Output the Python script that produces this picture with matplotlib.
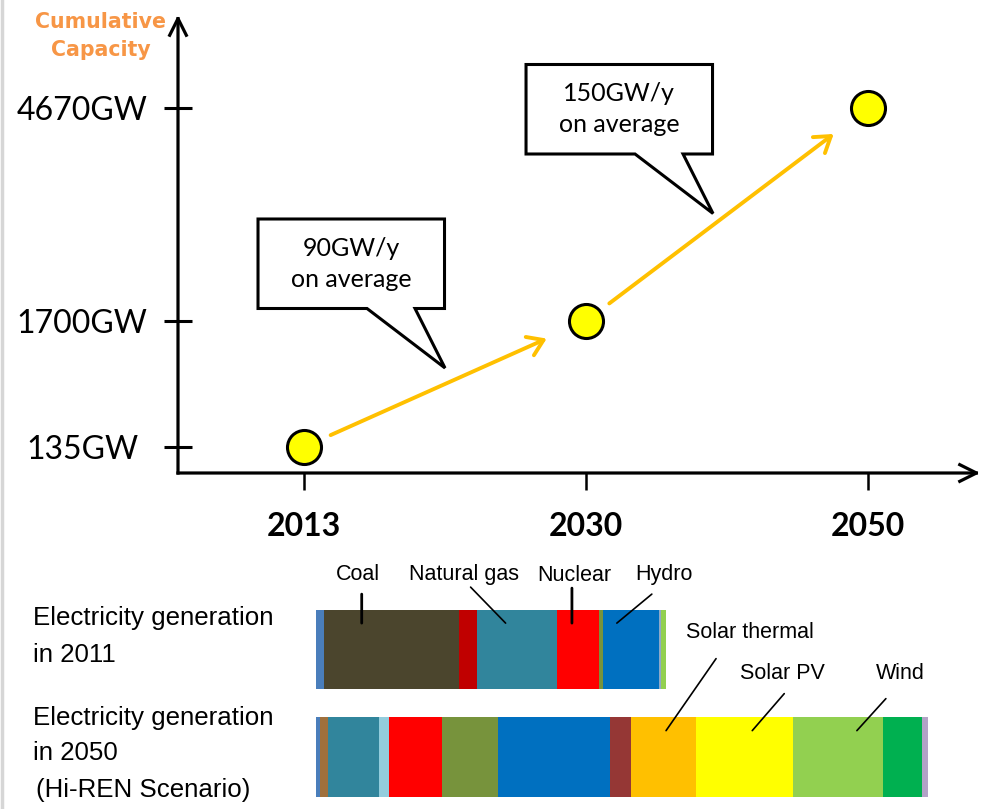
import numpy as np
import matplotlib
matplotlib.use("Agg")
import matplotlib.pyplot as plt
from matplotlib.patches import Polygon
from matplotlib.transforms import IdentityTransform
from matplotlib.lines import Line2D

# ---- data -------------------------------------------------------------
years = ["2013", "2030", "2050"]
capacity_gw = [135, 1700, 4670]
rate_labels = ["90GW/y\non average", "150GW/y\non average"]

# electricity generation by source, TWh
sources_2011 = ["Oil", "Coal", "Other fossil", "Natural gas", "Nuclear",
                "Biomass", "Hydro", "Geothermal", "Wind"]
gen_2011_twh = [500, 8500, 1130, 5040, 2650, 250, 3530, 130, 320]

sources_2050 = ["Oil", "Coal", "Natural gas", "Natural gas CCS", "Nuclear",
                "Biomass", "Hydro", "Geothermal", "Solar thermal", "Solar PV",
                "Wind onshore", "Wind offshore", "Ocean"]
gen_2050_twh = [250, 500, 3210, 630, 3340, 3530, 7060, 1320, 4100, 6110,
                5670, 2460, 380]

row_labels = [["Electricity generation", "in 2011"],
              ["Electricity generation", "in 2050", "(Hi-REN Scenario)"]]

# ---- styles -----------------------------------------------------------
colors_2011 = ["#4A7EBB", "#4B452D", "#C00000", "#31859C", "#FF0000",
               "#77933C", "#0070C0", "#8EA9C8", "#92D050"]
colors_2050 = ["#4A7EBB", "#A0703C", "#31859C", "#93CDDD", "#FF0000",
               "#77933C", "#0070C0", "#953735", "#FFC000", "#FFFF00",
               "#92D050", "#00B050", "#B3A2C7"]
ARROW_ORANGE = "#FFC000"
TITLE_ORANGE = "#F79646"

W, H = 982, 809
fig = plt.figure(figsize=(W / 100, H / 100), dpi=100)


def px_rect(left, top, right, bottom):
    return [left / W, 1 - bottom / H, (right - left) / W, (bottom - top) / H]


# ---- capacity chart ---------------------------------------------------
ax = fig.add_axes(px_rect(178, 15, 980, 473))

# schematic (non-linear) vertical axis: piecewise-linear mapping
knot_vals = np.array([-400.0, 135.0, 1700.0, 4670.0, 6000.0])
knot_pos = np.array([0.0, 26.0, 152.0, 365.0, 458.0])


def fwd(v):
    return np.interp(v, knot_vals, knot_pos)


def inv(p):
    return np.interp(p, knot_pos, knot_vals)


ax.set_yscale("function", functions=(fwd, inv))
ax.set_ylim(knot_vals[0], knot_vals[-1])
xpos = np.arange(len(years))
ax.set_xlim(-0.4468, 2.397)

for s in ax.spines.values():
    s.set_visible(False)
ax.patch.set_alpha(0)

# axis lines with open arrowheads
for end in [(0, 1), (1, 0)]:
    ax.annotate("", xy=end, xytext=(0, 0), xycoords="axes fraction",
                textcoords="axes fraction",
                arrowprops=dict(arrowstyle="->", lw=2.3, color="black",
                                mutation_scale=30, shrinkA=0, shrinkB=0,
                                capstyle="projecting"))

ax.set_yticks(capacity_gw, labels=[f"{v}GW" for v in capacity_gw],
              fontfamily="Lato", fontsize=23, ha="center")
ax.set_xticks(xpos, labels=years, fontfamily="Lato", fontweight="bold",
              fontsize=23)
ax.tick_params(axis="y", direction="inout", length=20, width=2.2, pad=59)
ax.tick_params(axis="x", direction="out", length=12, width=1.8, pad=16)

ax.plot(xpos, capacity_gw, "o", ms=24.5, mfc="#FFFF00", mec="black",
        mew=2.2, zorder=5, clip_on=False)

for i in range(len(years) - 1):
    ax.annotate("", xy=(xpos[i + 1], capacity_gw[i + 1]),
                xytext=(xpos[i], capacity_gw[i]),
                arrowprops=dict(arrowstyle="->,head_length=0.45,head_width=0.3",
                                color=ARROW_ORANGE, lw=2.8, mutation_scale=24,
                                shrinkA=21, shrinkB=31))

fig.text(101 / W, 1 - 36 / H, "Cumulative\nCapacity", ha="center",
         va="center", color=TITLE_ORANGE, fontweight="bold",
         fontfamily="DejaVu Sans", fontsize=14.8, linespacing=1.5)

# speech-bubble callouts anchored above the middle of each growth arrow
fig.canvas.draw()
tip_offsets = [(0, 16), (-14, 1)]
bubble = np.array([[0, 0], [-30, 59.5], [-0.5, 59.5], [-0.5, 149],
                   [-187, 149], [-187, 59.5], [-78, 59.5]])
for i, label in enumerate(rate_labels):
    p0 = ax.transData.transform((xpos[i], capacity_gw[i]))
    p1 = ax.transData.transform((xpos[i + 1], capacity_gw[i + 1]))
    tip = (p0 + p1) / 2 + np.array(tip_offsets[i])
    verts = bubble + tip
    fig.add_artist(Polygon(verts, closed=True, fc="white", ec="black",
                           lw=2.2, joinstyle="miter",
                           transform=IdentityTransform(), zorder=4))
    cx = tip[0] - 93.75
    cy = tip[1] + 104.25
    fig.text(cx / W, cy / H, label, ha="center", va="center",
             fontfamily="Lato", fontsize=18, linespacing=1.42, zorder=6)

# ---- generation bars --------------------------------------------------
bx = fig.add_axes(px_rect(316, 600, 940, 809))
bx.set_xlim(0, 624 * 63)
bx.set_ylim(1.484, -0.46)
bx.axis("off")

rows = [(gen_2011_twh, colors_2011), (gen_2050_twh, colors_2050)]
for r, (vals, cols) in enumerate(rows):
    lefts = np.concatenate([[0], np.cumsum(vals)[:-1]])
    bx.barh(r, vals, left=lefts, height=0.74, color=cols, edgecolor="none")

# (row, segment index, position in segment, line start offset, text offset)
seg_labels = [
    ("Coal", 0, 1, 0.28, (0, 29), (-3.5, 49)),
    ("Natural gas", 0, 3, 0.36, (-35, 36), (-42, 49)),
    ("Nuclear", 0, 4, 0.36, (0, 35), (2, 48)),
    ("Hydro", 0, 6, 0.25, (35, 29), (47, 49)),
    ("Solar thermal", 1, 8, 0.54, (50, 72), (84, 98)),
    ("Solar PV", 1, 9, 0.58, (32, 37), (30, 57)),
    ("Wind", 1, 10, 0.71, (29, 32), (43, 57)),
]
for text, r, k, frac, line_off, text_off in seg_labels:
    vals = rows[r][0]
    x_end = sum(vals[:k]) + frac * vals[k]
    y_end = r - 0.245
    lw = 2.0 if line_off[0] == 0 else 1.2
    bx.annotate("", xy=(x_end, y_end), xytext=line_off,
                textcoords="offset pixels",
                arrowprops=dict(arrowstyle="-", lw=lw, color="black",
                                shrinkA=0, shrinkB=0))
    bx.annotate(text, xy=(x_end, y_end), xytext=text_off,
                textcoords="offset pixels", ha="center", va="center",
                fontfamily="Liberation Sans", fontsize=15.5)

row_text_x = [[33, 33], [33, 33, 36]]
row_text_y = [[618, 655], [718, 753, 790]]
for lines, xs, ys in zip(row_labels, row_text_x, row_text_y):
    for line, x, y in zip(lines, xs, ys):
        fig.text(x / W, 1 - y / H, line, ha="left", va="center",
                 fontfamily="Liberation Sans", fontsize=18.6)

# thin grey page edge on the left
fig.add_artist(Line2D([1.5 / W, 1.5 / W], [0, 1], color="#D6D6D6", lw=2.5))

fig.savefig("out.png", dpi=100)
